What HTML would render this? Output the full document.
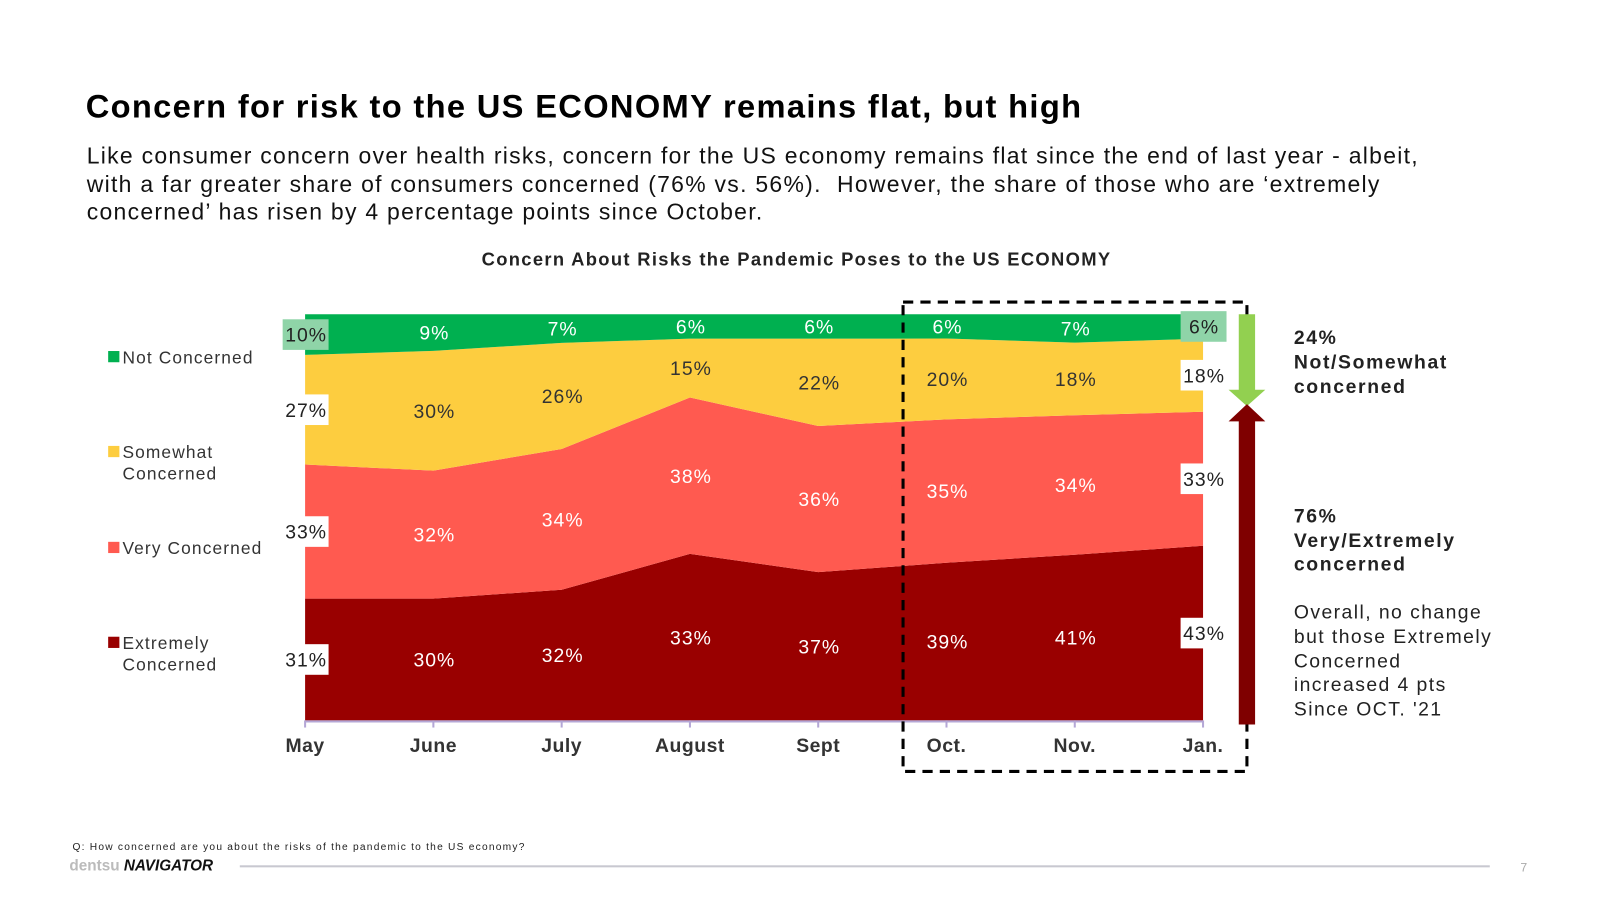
<!DOCTYPE html>
<html><head><meta charset="utf-8">
<style>
body{margin:0;width:1600px;height:900px;background:#fff;font-family:"Liberation Sans",sans-serif;overflow:hidden;position:relative;color:#111}
#wrap{position:absolute;left:0;top:0;width:1568px;height:882px;transform:scale(1.0204);transform-origin:0 0}
.abs{position:absolute}
</style></head><body>
<div id="wrap">
<div class="abs" style="left:84px;top:86px;font-size:32px;font-weight:bold;color:#000;letter-spacing:1.3px;white-space:nowrap">Concern for risk to the US ECONOMY remains flat, but high</div>
<div class="abs" style="left:85px;top:139px;font-size:22.5px;line-height:27.5px;color:#111;letter-spacing:1.25px;white-space:nowrap">Like consumer concern over health risks, concern for the US economy remains flat since the end of last year - albeit,<br>with a far greater share of consumers concerned (76% vs. 56%).&nbsp; However, the share of those who are ‘extremely<br>concerned’ has risen by 4 percentage points since October.</div>
<div class="abs" style="left:472px;top:244px;font-size:18px;font-weight:bold;color:#222;letter-spacing:1.3px;white-space:nowrap">Concern About Risks the Pandemic Poses to the US ECONOMY</div>
<svg class="abs" style="left:0;top:0" width="1568" height="882" id="chart"></svg>
<div class="abs" style="left:71px;top:825px;font-size:10px;color:#222;letter-spacing:1.2px;white-space:nowrap">Q: How concerned are you about the risks of the pandemic to the US economy?</div>
<div class="abs" style="left:68px;top:840px;font-size:15px;white-space:nowrap"><span style="color:#bbb;font-weight:bold">dentsu</span> <span style="font-weight:bold;font-style:italic;color:#111">NAVIGATOR</span></div>
<div class="abs" style="left:235px;top:848px;width:1225px;height:2px;background:#c8c8d0"></div>
<div class="abs" style="left:1490px;top:843px;font-size:12px;color:#aaa">7</div>
</div>
<script>
const categories=["May","June","July","August","Sept","Oct.","Nov.","Jan."];
const extremely=[30,30,32,41,36.5,39,41,43];
const very=[33,31.5,34.5,38.5,36,35.5,34.5,33];
const somewhat=[27,29.5,26,14.5,21.5,20,18,18];
const notConcerned=[10,9,7,6,6,6,7,6];
const labelsExtremely=["31%","30%","32%","33%","37%","39%","41%","43%"];
const labelsVery=["33%","32%","34%","38%","36%","35%","34%","33%"];
const labelsSomewhat=["27%","30%","26%","15%","22%","20%","18%","18%"];
const labelsNot=["10%","9%","7%","6%","6%","6%","7%","6%"];
const NS="http://www.w3.org/2000/svg";
const svg=document.getElementById('chart');
const X0=299,X1=1179,Y0=706,Y1=308;
const x=i=>X0+(X1-X0)*i/(categories.length-1);
const y=p=>Y0-(Y0-Y1)*p/100;
function mk(t,a){const e=document.createElementNS(NS,t);for(const k in a)e.setAttribute(k,a[k]);svg.appendChild(e);return e;}
const series=[
 {v:extremely,c:"#990000",l:labelsExtremely,n:"extremely",tc:"#fff"},
 {v:very,c:"#ff5a50",l:labelsVery,n:"very",tc:"#fff"},
 {v:somewhat,c:"#fdcd3f",l:labelsSomewhat,n:"somewhat",tc:"#333"},
 {v:notConcerned,c:"#00b050",l:labelsNot,n:"not-concerned",tc:"#fff"}];
const base=categories.map(()=>0);
const mids=[];
series.forEach(s=>{
 const lo=base.slice();
 categories.forEach((c,i)=>{const tot=extremely[i]+very[i]+somewhat[i]+notConcerned[i];base[i]+=s.v[i]*100/tot;});
 const hi=base.slice();
 let d="M"+categories.map((c,i)=>x(i)+","+y(hi[i])).join("L")+"L"+categories.map((c,i)=>i).reverse().map(i=>x(i)+","+y(lo[i])).join("L")+"Z";
 const p=mk('path',{d:d,fill:s.c});
 
 
 mids.push({s:s,lo:lo,hi:hi});
});
mids.forEach(m=>{
 categories.forEach((c,i)=>{
  const cy=y((m.lo[i]+m.hi[i])/2);
  const edge=(i==0||i==categories.length-1);
  if(edge){
   const r=mk('rect',{x:x(i)-22,y:cy-15,width:45,height:30,fill:m.s.n=="not-concerned"?"#8fd4a8":"#fff"});
   
   
  }
  const t=mk('text',{x:x(i)+1,y:cy+7,'text-anchor':'middle','font-size':19,'letter-spacing':1,fill:edge?"#222":m.s.tc,'font-family':'Liberation Sans'});
  t.textContent=m.s.l[i];
  
  
 });
});
const ax=mk('line',{x1:X0,x2:X1,y1:Y0+1,y2:Y0+1,stroke:'#b4a7d6','stroke-width':2});


categories.forEach((c,i)=>{
 const tk=mk('line',{x1:x(i),x2:x(i),y1:Y0,y2:Y0+7,stroke:'#b4a7d6','stroke-width':2});
 
 
 const t=mk('text',{x:x(i),y:737,'text-anchor':'middle','font-size':19,'font-weight':'bold','letter-spacing':0.5,fill:'#333','font-family':'Liberation Sans'});
 t.textContent=c;
 
 
});
const box=mk('rect',{x:885,y:296,width:337,height:460,fill:'none',stroke:'#000','stroke-width':3,'stroke-dasharray':'10,7'});


const ga=mk('path',{d:'M1214,308H1230V382H1240L1222,398L1204,382H1214Z',fill:'#92d050'});


const ra=mk('path',{d:'M1214,710V413H1204L1222,396L1240,413H1230V710Z',fill:'#7f0000'});


const leg=[["Not Concerned","#00b050",350],["Somewhat|Concerned","#fdcd3f",443],["Very Concerned","#ff5a50",537],["Extremely|Concerned","#990000",630]];
leg.forEach(l=>{
 const r=mk('rect',{x:106,y:l[2]-6,width:11,height:11,fill:l[1]});
 
 
 l[0].split("|").forEach((s,k)=>{
  const t=mk('text',{x:120,y:l[2]+6+k*21,'font-size':17,'letter-spacing':1.1,fill:'#333','font-family':'Liberation Sans'});
  t.textContent=s;
  
  
 });
});
const right=[["24%",337,1],["Not/Somewhat",361,1],["concerned",385,1],["76%",512,1],["Very/Extremely",536,1],["concerned",559,1],["Overall, no change",606,0],["but those Extremely",630,0],["Concerned",654,0],["increased 4 pts",677,0],["Since OCT. '21",701,0]];
right.forEach(r=>{
 const t=mk('text',{x:1268,y:r[1],'font-size':19,'font-weight':r[2]?'bold':'normal','letter-spacing':r[2]?1.6:1.4,fill:'#222','font-family':'Liberation Sans'});
 t.textContent=r[0];
 
 
});
</script>
</body></html>
